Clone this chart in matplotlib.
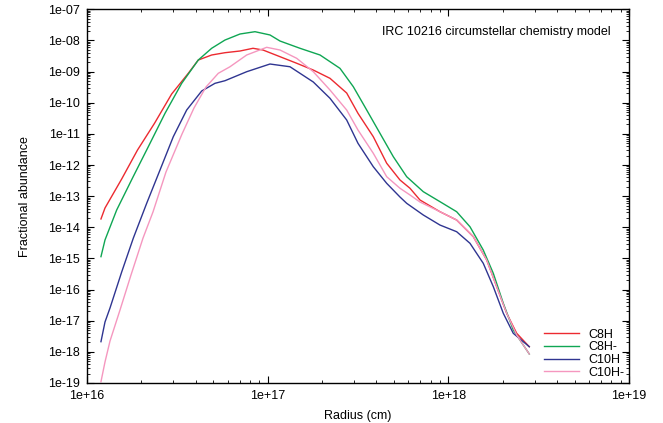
import numpy as np
import matplotlib
matplotlib.use("Agg")
import matplotlib.pyplot as plt
from matplotlib.ticker import FixedLocator, FuncFormatter, LogLocator, NullFormatter

plt.rcParams['font.family'] = ['Liberation Sans', 'DejaVu Sans']

# radius (cm) and fractional abundance
c8h_r = [1.195e16, 1.258e16, 1.556e16, 1.904e16, 2.364e16, 2.943e16, 3.637e16, 4.130e16,
         4.899e16, 5.804e16, 7.030e16, 8.296e16, 9.423e16, 1.170e17, 1.448e17, 1.789e17,
         2.213e17, 2.738e17, 3.162e17, 3.843e17, 4.559e17, 5.401e17, 6.135e17, 6.968e17,
         8.991e17, 1.112e18, 1.375e18, 1.631e18, 1.852e18, 2.104e18, 2.390e18, 2.806e18]
c8h = [1.85e-14, 4.16e-14, 3.55e-13, 3.03e-12, 2.18e-11, 1.91e-10, 8.81e-10, 2.35e-9,
       3.41e-9, 4.04e-9, 4.58e-9, 5.60e-9, 4.93e-9, 3.01e-9, 1.85e-9, 1.12e-9,
       6.08e-10, 2.05e-10, 4.57e-11, 8.11e-12, 1.14e-12, 3.30e-13, 1.79e-13, 7.52e-14,
       3.16e-14, 1.71e-14, 4.99e-15, 8.89e-16, 1.24e-16, 1.73e-17, 3.94e-18, 1.46e-18]

c8h_m_r = [1.195e16, 1.258e16, 1.460e16, 1.798e16, 2.185e16, 2.703e16, 3.344e16, 4.130e16,
           4.899e16, 5.804e16, 7.030e16, 8.51e16, 1.030e17, 1.170e17, 1.510e17, 1.949e17,
           2.514e17, 2.979e17, 3.534e17, 4.186e17, 4.960e17, 5.882e17, 7.268e17, 8.991e17,
           1.112e18, 1.318e18, 1.561e18, 1.774e18, 2.015e18, 2.288e18, 2.806e18]
c8h_m = [1.14e-15, 3.91e-15, 3.59e-14, 4.12e-13, 3.87e-12, 4.57e-11, 4.20e-10, 2.35e-9,
         5.60e-9, 1.03e-8, 1.61e-8, 1.91e-8, 1.50e-8, 9.59e-9, 5.60e-9, 3.41e-9,
         1.27e-9, 3.27e-10, 5.83e-11, 1.04e-11, 1.85e-12, 4.21e-13, 1.39e-13, 6.64e-14,
         3.16e-14, 1.04e-14, 1.86e-15, 3.33e-16, 3.62e-17, 5.04e-18, 8.53e-19]

c10h_r = [1.195e16, 1.258e16, 1.341e16, 1.556e16, 1.805e16, 2.140e16, 2.536e16, 3.004e16,
          3.563e16, 4.314e16, 5.11e16, 5.804e16, 7.655e16, 1.030e17, 1.329e17, 1.789e17,
          2.213e17, 2.738e17, 3.162e17, 3.843e17, 4.559e17, 5.401e17, 5.882e17, 7.268e17,
          8.991e17, 1.112e18, 1.318e18, 1.561e18, 1.774e18, 2.015e18, 2.288e18, 2.806e18]
c10h = [2.12e-18, 9.08e-18, 2.56e-17, 3.66e-16, 4.49e-15, 5.89e-14, 6.90e-13, 8.11e-12,
        5.83e-11, 2.38e-10, 4.20e-10, 5.09e-10, 9.91e-10, 1.75e-9, 1.43e-9, 4.63e-10,
        1.39e-10, 2.79e-11, 4.98e-12, 8.81e-13, 2.58e-13, 9.38e-14, 5.89e-14, 2.48e-14,
        1.18e-14, 7.21e-15, 3.06e-15, 6.97e-16, 1.24e-16, 1.73e-17, 3.94e-18, 1.46e-18]

c10h_m_r = [1.195e16, 1.258e16, 1.341e16, 1.523e16, 1.752e16, 2.042e16, 2.319e16, 2.737e16,
            3.357e16, 3.911e16, 4.558e16, 5.331e16, 6.187e16, 7.655e16, 9.877e16, 1.170e17,
            1.448e17, 1.789e17, 2.213e17, 2.738e17, 3.162e17, 3.843e17, 4.559e17, 5.401e17,
            6.135e17, 6.968e17, 8.991e17, 1.112e18, 1.375e18, 1.631e18, 1.852e18, 2.104e18,
            2.390e18, 2.806e18]
c10h_m = [1.10e-19, 4.72e-19, 2.23e-18, 2.20e-17, 2.93e-16, 4.49e-15, 3.10e-14, 5.96e-13,
          9.89e-12, 6.77e-11, 3.20e-10, 8.81e-10, 1.43e-9, 3.41e-9, 6.02e-9, 4.93e-9,
          2.67e-9, 9.91e-10, 2.56e-10, 5.83e-11, 1.33e-11, 2.38e-12, 4.21e-13, 1.79e-13,
          1.09e-13, 6.48e-14, 3.16e-14, 1.71e-14, 4.99e-15, 8.89e-16, 1.24e-16, 1.73e-17,
          3.47e-18, 8.53e-19]

fig = plt.figure(figsize=(6.63, 4.23), dpi=100)
ax = fig.add_axes([0.1312, 0.0946, 0.8175, 0.8834])

ax.plot(c8h_r, c8h, color='#ec2a30', lw=1.0, label='C8H')
ax.plot(c8h_m_r, c8h_m, color='#0fa653', lw=1.0, label='C8H-')
ax.plot(c10h_r, c10h, color='#2f3591', lw=1.0, label='C10H')
ax.plot(c10h_m_r, c10h_m, color='#f597bf', lw=1.0, label='C10H-')

ax.set_xscale('log')
ax.set_yscale('log')
ax.set_xlim(1e16, 1e19)
ax.set_ylim(1e-19, 1e-7)

def sci(v, pos):
    return "1e%+03d" % int(round(np.log10(v)))

ax.xaxis.set_major_locator(FixedLocator([1e16, 1e17, 1e18, 1e19]))
ax.yaxis.set_major_locator(FixedLocator([10.0 ** k for k in range(-19, -6)]))
ax.xaxis.set_minor_locator(LogLocator(base=10, subs=np.arange(2, 10), numticks=50))
ax.yaxis.set_minor_locator(LogLocator(base=10, subs=np.arange(2, 10), numticks=50))
ax.xaxis.set_major_formatter(FuncFormatter(sci))
ax.yaxis.set_major_formatter(FuncFormatter(sci))
ax.xaxis.set_minor_formatter(NullFormatter())
ax.yaxis.set_minor_formatter(NullFormatter())

ax.tick_params(which='both', direction='in', top=True, right=True, labelsize=9, colors='black')
ax.tick_params(which='major', length=5, width=0.8, pad=5)
ax.tick_params(which='minor', length=2.5, width=0.6)
for s in ax.spines.values():
    s.set_linewidth(1.0)

ax.set_xlabel('Radius (cm)', fontsize=9, labelpad=6)
ax.set_ylabel('Fractional abundance', fontsize=9, labelpad=12)
ax.text(0.967, 0.94, 'IRC 10216 circumstellar chemistry model', transform=ax.transAxes,
        ha='right', va='center', fontsize=9)

ax.legend(loc='lower right', frameon=False, fontsize=9, handlelength=2.8, handletextpad=0.75,
          labelspacing=0.05, borderaxespad=0.05, borderpad=0.3)

fig.savefig('out.png', dpi=100)
